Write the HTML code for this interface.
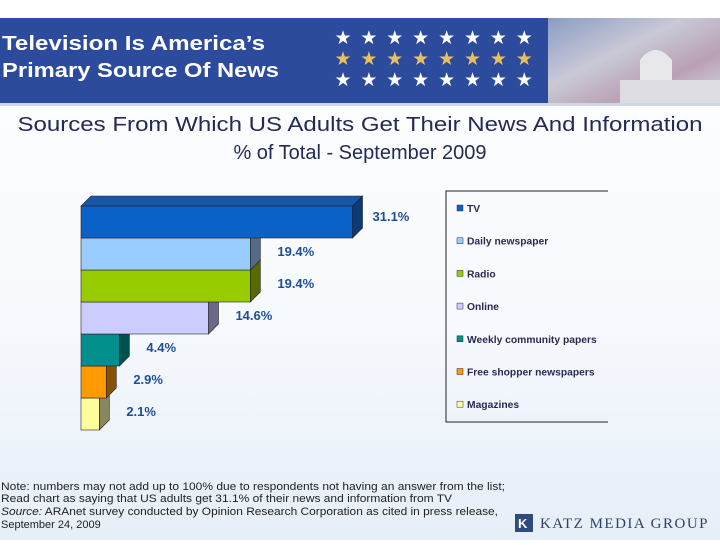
<!DOCTYPE html>
<html><head><meta charset="utf-8"><style>
body{margin:0;width:720px;height:540px;overflow:hidden;background:#fff;font-family:"Liberation Sans",sans-serif}
</style></head><body>
<svg id="s" width="720" height="540" xmlns="http://www.w3.org/2000/svg">
<defs>
<linearGradient id="bg" x1="0" y1="0" x2="0" y2="1"><stop offset="0" stop-color="#ffffff"/><stop offset="0.6" stop-color="#f6f9fd"/><stop offset="1" stop-color="#e6eef8"/></linearGradient>
<linearGradient id="img" x1="0" y1="0" x2="1" y2="1"><stop offset="0" stop-color="#8a9cc4"/><stop offset="0.4" stop-color="#c9c9d6"/><stop offset="0.7" stop-color="#b9a0b4"/><stop offset="1" stop-color="#d8d8e0"/></linearGradient>
</defs>
<rect x="0" y="0" width="720" height="540" fill="url(#bg)"/>
<g>
<rect x="0" y="18" width="548" height="85" fill="#2d4b9c"/>
<rect x="548" y="18" width="172" height="85" fill="url(#img)"/>
<path d="M640 103 L640 60 Q655 40 672 60 L672 103 Z" fill="#e8e8ea"/>
<rect x="620" y="80" width="100" height="23" fill="#dcdce2"/>
<rect x="0" y="103" width="720" height="3" fill="#d0d6e2"/>
<text x="2" y="50" font-size="20" font-weight="bold" fill="#fff" textLength="263" lengthAdjust="spacingAndGlyphs">Television Is America’s</text>
<text x="2" y="77" font-size="20" font-weight="bold" fill="#fff" textLength="277" lengthAdjust="spacingAndGlyphs">Primary Source Of News</text>
<g id="stars" font-size="19"></g>
</g>
<g fill="#222a55" font-size="20">
<text x="360" y="131" text-anchor="middle" textLength="685" lengthAdjust="spacingAndGlyphs">Sources From Which US Adults Get Their News And Information</text>
<text x="360" y="159" text-anchor="middle">% of Total - September 2009</text>
</g>
<g id="bars"></g>
<g>
<path d="M608 191 L446 191 L446 422 L608 422" fill="none" stroke="#222" stroke-width="1"/>
<g id="legend"></g>
</g>
<g font-size="11" fill="#222">
<text x="1" y="490" textLength="504" lengthAdjust="spacingAndGlyphs">Note: numbers may not add up to 100% due to respondents not having an answer from the list;</text>
<text x="1" y="502" textLength="451" lengthAdjust="spacingAndGlyphs">Read chart as saying that US adults get 31.1% of their news and information from TV</text>
<text x="1" y="515" textLength="497" lengthAdjust="spacingAndGlyphs"><tspan font-style="italic">Source:</tspan> ARAnet survey conducted by Opinion Research Corporation as cited in press release,</text>
<text x="1" y="528">September 24, 2009</text>
</g>
<g>
<rect x="515" y="514" width="18" height="18" fill="#2d4b7c"/>
<text x="518" y="528" font-size="13" fill="#fff" font-weight="bold">K</text>
<text x="540" y="528" font-family="Liberation Serif,serif" font-size="15" fill="#2d3f6a" letter-spacing="1.5">KATZ MEDIA GROUP</text>
</g>
</svg>
<script>
const categories=["TV","Daily newspaper","Radio","Online","Weekly community papers","Free shopper newspapers","Magazines"];
const values=[31.1,19.4,19.4,14.6,4.4,2.9,2.1];
const labels=["31.1%","19.4%","19.4%","14.6%","4.4%","2.9%","2.1%"];
const fronts=["#0a62c8","#99ccff","#99cc00","#ccccff","#008f8a","#ff9900","#ffff99"];
const sides=["#0c3a78","#556a88","#556b00","#6a6a88","#005050","#8a5200","#888860"];
const NS="http://www.w3.org/2000/svg";
const x0=81,top0=206,bh=32,scale=8.73,dep=10;
const X=v=>x0+v*scale;
const Y=i=>top0+i*bh;
const g=document.getElementById('bars');
function mk(tag,attrs,parent){const e=document.createElementNS(NS,tag);for(const k in attrs)e.setAttribute(k,attrs[k]);parent.appendChild(e);return e;}
for(let i=values.length-1;i>=0;i--){
  const xr=X(values[i]),y=Y(i);
  const side=mk('path',{d:`M${xr} ${y} L${xr+dep} ${y-dep} L${xr+dep} ${y+bh-dep} L${xr} ${y+bh} Z`,fill:sides[i],stroke:'#222','stroke-width':0.6},g);
  
  
  if(i===0){const t=mk('path',{d:`M${x0} ${y} L${x0+dep} ${y-dep} L${xr+dep} ${y-dep} L${xr} ${y} Z`,fill:'#1a56a8',stroke:'#222','stroke-width':0.6},g);
    
    }
  const r=mk('rect',{x:x0,y:y,width:xr-x0,height:bh,fill:fronts[i],stroke:'#222','stroke-width':0.6},g);
  
  
  const t=mk('text',{x:xr+dep+(i===0?10:17),y:y+(i===0?15:18),'font-size':13,'font-weight':'bold',fill:'#1f4e96'},g);
  t.textContent=labels[i];
  
  
}
const lg=document.getElementById('legend');
categories.forEach((c,i)=>{
  const y=208+i*32.7;
  const sw=mk('rect',{x:457,y:y-3,width:6,height:6,fill:fronts[i],stroke:'#333','stroke-width':0.5},lg);
  
  
  const t=mk('text',{x:467,y:y+4,'font-size':10.3,'font-weight':'bold',fill:'#2a2a50'},lg);
  t.textContent=c;
  
  
});
const st=document.getElementById('stars');
for(let r=0;r<3;r++)for(let c=0;c<8;c++){
  const t=mk('text',{x:343+c*25.9,y:44+r*21,'text-anchor':'middle',fill:r===1?'#e8c060':'#ffffff'},st);
  t.textContent='★';
}
</script>
</body></html>
